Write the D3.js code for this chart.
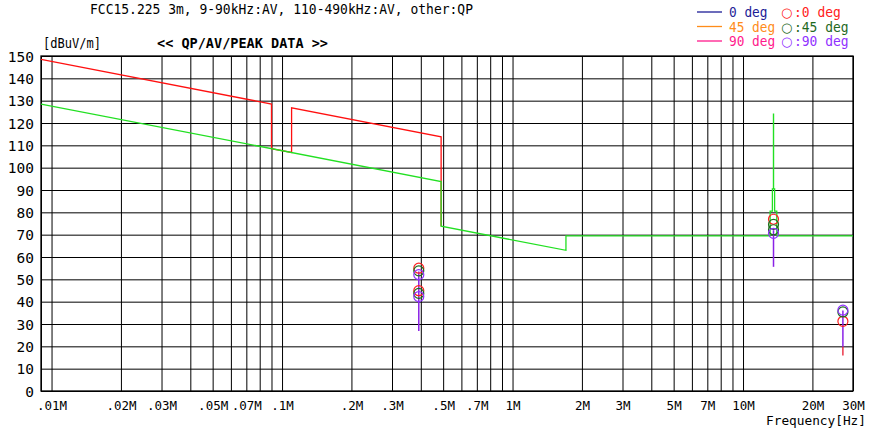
<!DOCTYPE html>
<html><head><meta charset="utf-8">
<script src="https://cdn.jsdelivr.net/npm/d3@7"></script>
<style>
html,body{margin:0;padding:0;background:#fff;}
svg{display:block;}
text{font-family:"DejaVu Sans Mono",monospace;}
</style></head>
<body>
<svg id="c" width="869" height="433"></svg>
<script>
// ---- data (frequency in MHz, level in dBuV/m) ----
const titleText = "FCC15.225 3m, 9-90kHz:AV, 110-490kHz:AV, other:QP";
const xTickValues = [0.01,0.02,0.03,0.05,0.07,0.1,0.2,0.3,0.5,0.7,1,2,3,5,7,10,20,30];
const xTickLabels = [".01M",".02M",".03M",".05M",".07M",".1M",".2M",".3M",".5M",".7M","1M","2M","3M","5M","7M","10M","20M","30M"];
const yTickValues = [0,10,20,30,40,50,60,70,80,90,100,110,120,130,140,150];

// limit lines (vertex points)
const peakLimitFreq  = [0.009, 0.09, 0.09, 0.11, 0.11, 0.49, 0.49];
const peakLimitLevel = [148.5, 128.5, 108.5, 106.8, 126.8, 113.8, 73.8];
const avLimitFreq  = [0.009, 0.49, 0.49, 1.705, 1.705, 13.11, 13.11, 13.41, 13.41, 13.553, 13.553, 13.567, 13.567, 13.71, 13.71, 14.01, 14.01, 30];
const avLimitLevel = [128.5, 93.8, 73.8, 63.0, 69.5, 69.5, 80.5, 80.5, 90.5, 90.5, 124.0, 124.0, 90.5, 90.5, 80.5, 80.5, 69.5, 69.5];

// peak traces (narrow sweeps, drawn as vertical spans)
const traceFreq = [0.392, 13.56, 27.12];
const traceLow  = [26.9, 55.6, 19.8];
const traceHigh = [53.5, 72.0, 36.0];
const tailFreq = [27.12];
const tailLow  = [15.9];
const tailHigh = [20.0];

// QP/AV data points per antenna angle
const pt0Freq   = [0.392, 0.392, 13.56, 27.12];
const pt0Level  = [55.0, 44.9, 76.9, 31.2];
const pt45Freq  = [0.392, 0.392, 13.56, 13.56, 27.12];
const pt45Level = [53.8, 43.7, 74.6, 72.2, 35.4];
const pt90Freq  = [0.392, 0.392, 13.56, 27.12];
const pt90Level = [52.1, 42.3, 70.6, 36.2];

const legendLines = ["0 deg", "45 deg", "90 deg"];
const legendMarks = [":0 deg", ":45 deg", ":90 deg"];

// ---- styles ----
const C = {
  peakLimit:"#ff1010", avLimit:"#22e022", trace:"#8a22e6", tail:"#e8182e",
  p0:"#ff2020", p45:"#1f6a1f", p90:"#9030ff",
  l0:"#1c1c96", l45:"#ff8c1a", l90:"#ff1a8c"
};

const svg = d3.select("#c");
const L = 41, R = 853, T = 56, B = 391;
const x = d3.scaleLog().domain([0.009, 30]).range([L, R]);
const y = d3.scaleLinear().domain([0, 150]).range([B, T]);

// grid via axes
const gx = svg.append("g").attr("transform", `translate(0,${B})`)
  .call(d3.axisBottom(x).tickValues(x.ticks()).tickSize(-(B - T)).tickFormat(""));
gx.select(".domain").remove();
gx.selectAll("line").attr("stroke", "#000").attr("stroke-width", 1);

const gy = svg.append("g").attr("transform", `translate(${L},0)`)
  .call(d3.axisLeft(y).tickValues(yTickValues).tickSize(-(R - L)).tickFormat(""));
gy.select(".domain").remove();
gy.selectAll("line").attr("stroke", "#000").attr("stroke-width", 1);

// y labels
const yl = svg.append("g").attr("transform", `translate(${L},0)`)
  .call(d3.axisLeft(y).tickValues(yTickValues).tickSize(0).tickPadding(7));
yl.select(".domain").remove();
yl.selectAll("text").attr("font-family", "'Liberation Sans', Arial, sans-serif")
  .attr("font-size", 14.5).attr("fill", "#000").attr("dy", "0.36em");

// x labels
const xl = svg.append("g").attr("transform", `translate(0,${B})`)
  .call(d3.axisBottom(x).tickValues(xTickValues).tickSize(0)
    .tickFormat((d, i) => xTickLabels[i]));
xl.select(".domain").remove();
xl.selectAll("text").attr("font-family", "'DejaVu Sans Mono', monospace")
  .attr("font-size", 12.5).attr("fill", "#000").attr("y", 18.5).attr("dy", 0);

// border
svg.append("rect").attr("x", L).attr("y", T).attr("width", R - L).attr("height", B - T)
  .attr("fill", "none").attr("stroke", "#000").attr("stroke-width", 1.3);

svg.append("clipPath").attr("id", "pc").append("rect")
  .attr("x", L).attr("y", T).attr("width", R - L).attr("height", B - T);
const plot = svg.append("g").attr("clip-path", "url(#pc)");

const line = d3.line().x(d => x(d[0])).y(d => y(d[1]));
plot.append("path").datum(d3.zip(peakLimitFreq, peakLimitLevel)).attr("d", line)
  .attr("fill", "none").attr("stroke", C.peakLimit).attr("stroke-width", 1.3);
plot.append("path").datum(d3.zip(avLimitFreq, avLimitLevel)).attr("d", line)
  .attr("fill", "none").attr("stroke", C.avLimit).attr("stroke-width", 1.3);

// traces
plot.selectAll(".tail").data(d3.zip(tailFreq, tailLow, tailHigh)).join("line")
  .attr("x1", d => x(d[0])).attr("x2", d => x(d[0]))
  .attr("y1", d => y(d[1])).attr("y2", d => y(d[2]))
  .attr("stroke", C.tail).attr("stroke-width", 1.3);
plot.selectAll(".trace").data(d3.zip(traceFreq, traceLow, traceHigh)).join("line")
  .attr("x1", d => x(d[0])).attr("x2", d => x(d[0]))
  .attr("y1", d => y(d[1])).attr("y2", d => y(d[2]))
  .attr("stroke", C.trace).attr("stroke-width", 1.5);

// points
function pts(fr, lv, col) {
  plot.append("g").selectAll("circle").data(d3.zip(fr, lv)).join("circle")
    .attr("cx", d => x(d[0])).attr("cy", d => y(d[1])).attr("r", 5)
    .attr("fill", "none").attr("stroke", col).attr("stroke-width", 1.2);
}
pts(pt0Freq, pt0Level, C.p0);
pts(pt45Freq, pt45Level, C.p45);
pts(pt90Freq, pt90Level, C.p90);

// texts
svg.append("text").attr("x", 90).attr("y", 14).attr("font-size", 13.5)
  .attr("textLength", 383).attr("lengthAdjust", "spacingAndGlyphs").text(titleText);
svg.append("text").attr("x", 43).attr("y", 48).attr("font-size", 13.5)
  .attr("textLength", 58).attr("lengthAdjust", "spacingAndGlyphs").text("[dBuV/m]");
svg.append("text").attr("x", 157).attr("y", 48).attr("font-size", 13.5).attr("font-weight", "bold")
  .attr("textLength", 171).attr("lengthAdjust", "spacingAndGlyphs").text("<< QP/AV/PEAK DATA >>");
svg.append("text").attr("x", 866).attr("y", 424.5).attr("font-size", 12.5).attr("text-anchor", "end")
  .attr("textLength", 100).attr("lengthAdjust", "spacingAndGlyphs").text("Frequency[Hz]");

// legend
const lineCols = [C.l0, C.l45, C.l90];
const markCols = [C.p0, C.p45, C.p90];
const rowY = [17, 31.5, 46];
legendLines.forEach((t, i) => {
  svg.append("line").attr("x1", 697).attr("x2", 722).attr("y1", rowY[i] - 5).attr("y2", rowY[i] - 5)
    .attr("stroke", lineCols[i]).attr("stroke-width", 1.3);
  svg.append("text").attr("x", 729).attr("y", rowY[i]).attr("font-size", 13.5)
    .attr("fill", lineCols[i]).attr("textLength", t.length * 7.7)
    .attr("lengthAdjust", "spacingAndGlyphs").text(t);
});
legendMarks.forEach((t, i) => {
  const tx = svg.append("text").attr("x", 781).attr("y", rowY[i]).attr("font-size", 13.5)
    .attr("fill", markCols[i]);
  tx.append("tspan").attr("font-family", "'DejaVu Sans', sans-serif").attr("font-size", 13)
    .text("○");
  tx.append("tspan").attr("x", 794).attr("textLength", t.length * 7.8)
    .attr("lengthAdjust", "spacingAndGlyphs").text(t);
});
</script>
</body></html>
